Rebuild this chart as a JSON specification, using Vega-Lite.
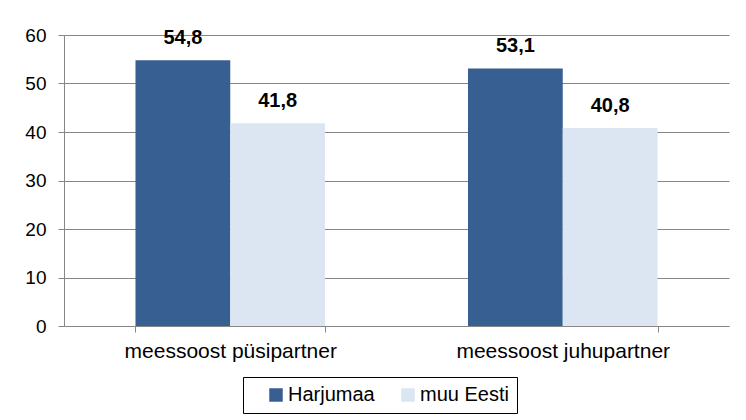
{
  "$schema": "https://vega.github.io/schema/vega-lite/v6.json",
  "width": 665,
  "height": 291,
  "autosize": "none",
  "padding": {"left": 64, "top": 35, "right": 17, "bottom": 94},
  "background": "white",
  "data": {
    "values": [
      {"category": "meessoost püsipartner", "group": "Harjumaa", "value": 54.8, "label": "54,8"},
      {"category": "meessoost püsipartner", "group": "muu Eesti", "value": 41.8, "label": "41,8"},
      {"category": "meessoost juhupartner", "group": "Harjumaa", "value": 53.1, "label": "53,1"},
      {"category": "meessoost juhupartner", "group": "muu Eesti", "value": 40.8, "label": "40,8"}
    ]
  },
  "encoding": {
    "x": {
      "field": "category", "type": "nominal", "sort": null, "title": null,
      "scale": {"paddingInner": 0.43, "paddingOuter": 0.215},
      "axis": {
        "labelAngle": 0, "labelFont": "Liberation Sans", "labelFontSize": 21, "labelColor": "black",
        "labelPadding": 8, "domainColor": "#868686", "tickColor": "#868686", "tickSize": 6,
        "tickBand": "extent", "grid": false, "labelLimit": 400
      }
    },
    "xOffset": {"field": "group", "type": "nominal", "sort": ["Harjumaa", "muu Eesti"]},
    "y": {
      "field": "value", "type": "quantitative", "title": null,
      "scale": {"domain": [0, 60], "nice": false},
      "axis": {
        "values": [0, 10, 20, 30, 40, 50, 60], "labelFont": "Liberation Sans", "labelFontSize": 19,
        "labelColor": "black", "labelPadding": 12, "domainColor": "#868686", "tickColor": "#868686",
        "tickSize": 6, "gridColor": "#868686", "grid": true
      }
    }
  },
  "layer": [
    {
      "mark": {"type": "bar"},
      "encoding": {
        "color": {
          "field": "group", "type": "nominal",
          "scale": {"domain": ["Harjumaa", "muu Eesti"], "range": ["#375F92", "#DCE6F2"]},
          "legend": {
            "title": null, "orient": "none", "direction": "horizontal",
            "legendX": 179, "legendY": 342,
            "symbolType": "square", "symbolSize": 182, "symbolStrokeWidth": 0,
            "symbolOffset": 15,
            "labelFont": "Liberation Sans", "labelFontSize": 20, "labelColor": "black",
            "labelExpr": "datum.label == 'muu Eesti' ? datum.label + '  ' : datum.label",
            "strokeColor": "black", "padding": 8, "columnPadding": 8, "labelOffset": 2
          }
        }
      }
    },
    {
      "mark": {"type": "text", "dy": -22, "font": "Liberation Sans", "fontSize": 20, "fontWeight": "bold", "color": "black"},
      "encoding": {"text": {"field": "label"}}
    }
  ],
  "config": {"view": {"stroke": null}}
}
